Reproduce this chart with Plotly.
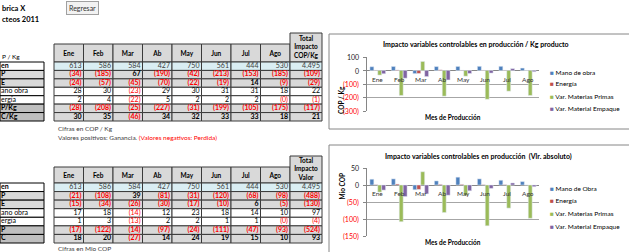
import plotly.graph_objects as go

W, H = 629, 252
FONT = "Lato"

months = ["Ene", "Feb", "Mar", "Ab", "May", "Jun", "Jul", "Ago"]
volumen = [613, 586, 584, 427, 750, 561, 444, 530]
volumen_total = 4495

# Table 1: COP / Kg
kg_mp = [-34, -185, 67, -190, -42, -213, -153, -185]
kg_me = [-24, -57, -45, -70, -22, -19, 14, -9]
kg_mo = [28, 30, -23, 29, 30, 31, 31, 18]
kg_en = [2, 4, -22, 5, 2, 2, 2, -0.3]
kg_p = [-28, -208, -25, -227, -31, -199, -105, -175]
kg_c = [30, 35, -46, 34, 32, 33, 33, 18]
kg_totals = [volumen_total, -109, -29, 22, -1, -117, 21]

# Table 2: Mio COP
mio_mp = [-21, -108, 39, -81, -31, -120, -68, -98]
mio_me = [-15, -34, -26, -30, -17, -10, 6, -5]
mio_mo = [17, 18, -14, 12, 23, 18, 14, 10]
mio_en = [1, 3, -13, 2, 2, 1, 1, -0.2]
mio_p = [-17, -122, -14, -97, -24, -111, -47, -93]
mio_c = [18, 20, -27, 14, 24, 19, 15, 10]
mio_totals = [volumen_total, -488, -130, 97, -4, -524, 93]

labels1 = ["en", "P", "E", "ano obra", "ergía", "P/Kg", "C/Kg"]
labels2 = ["en", "P", "E", "ano obra", "ergía", "P", "C"]

series_names1 = ["Mano de obra", "Energía", "Var. Materias Primas", "Var. Material Empaque"]
series_names2 = ["Mano de Obra", "Energía", "Var. Materias Primas", "Var. Material Empaque"]
colors = ["#4F81BD", "#C0504D", "#9BBB59", "#8064A2"]

ticks1 = [100, 0, -100, -200, -300]
ticks2 = [50, 0, -50, -100, -150]

BOLD_ROWS = {1, 2, 5, 6}
GREY = "#D9D9D9"
DGREY = "#BFBFBF"
BLUE = "#DAEEF3"
RED = "#FF0000"
LINE = "#3A3A3A"


def fmt(v):
    r = int(round(abs(v)))
    s = f"{r:,}".replace(",", ".")
    return f"({s})" if v < 0 else s


def xdom(l, r):
    return [max(0, l / W), min(1, r / W)]


def ydom(top, bottom):
    return [max(0, 1 - bottom / H), min(1, 1 - top / H)]


fig = go.Figure()
shapes = []

row_fill = [BLUE, GREY, GREY, "white", "white", GREY, GREY]
label_fill = ["white", GREY, GREY, "white", "white", DGREY, DGREY]


def rect(x0, x1, y0, y1, fill, color=LINE, width=1):
    shapes.append(dict(type="rect", xref="x3", yref="y3", x0=x0, x1=x1, y0=y0, y1=y1,
                       fillcolor=fill, line=dict(color=color, width=width), layer="below"))


def add_table(rows, totals, labels, total_hdr, top_hdr, top_rows, bottom_rows):
    col_w = (290 - 54) / len(months)
    edges = [54 + j * col_w for j in range(len(months) + 1)] + [322]
    row_h = (bottom_rows - top_rows) / len(rows)
    for j in range(len(months)):
        rect(edges[j], edges[j + 1], top_hdr, top_rows, GREY)
    rect(edges[-2], edges[-1], top_hdr - 11, top_rows, GREY)
    tx, ty, tt, tc = [], [], [], []
    hx, hy, ht = [], [], []
    for j, m in enumerate(months):
        hx.append((edges[j] + edges[j + 1]) / 2)
        hy.append((top_hdr + top_rows) / 2 + 1)
        ht.append(f"<b>{m}</b>")
    hx.append((edges[-2] + edges[-1]) / 2)
    hy.append((top_hdr - 11 + top_rows) / 2)
    ht.append(total_hdr)
    for i, r in enumerate(rows):
        y0 = top_rows + i * row_h
        allv = list(r) + [totals[i]]
        for j, v in enumerate(allv):
            rect(edges[j], edges[j + 1], y0, y0 + row_h, row_fill[i])
            t = fmt(v)
            if i in BOLD_ROWS:
                t = f"<b>{t}</b>"
            tx.append(edges[j + 1] - 2)
            ty.append(y0 + row_h / 2)
            tt.append(t)
            tc.append(RED if v < 0 else ("#404040" if i == 0 else "black"))
        rect(0, 44, y0, y0 + row_h, label_fill[i], color="black")
    fig.add_trace(go.Scatter(x=tx, y=ty, text=tt, mode="text", textposition="middle left",
                             textfont=dict(family=FONT, size=7, color=tc), xaxis="x3", yaxis="y3",
                             hoverinfo="skip", showlegend=False))
    fig.add_trace(go.Scatter(x=hx, y=hy, text=ht, mode="text", textposition="middle center",
                             textfont=dict(family=FONT, size=6.5, color="black"), xaxis="x3",
                             yaxis="y3", hoverinfo="skip", showlegend=False))
    lab = [f"<b>{l}</b>" if i in (0, 1, 2, 5, 6) else l for i, l in enumerate(labels)]
    fig.add_trace(go.Scatter(x=[1] * len(lab), y=[top_rows + (i + 0.5) * row_h for i in range(len(lab))],
                             text=lab, mode="text", textposition="middle right",
                             textfont=dict(family=FONT, size=7, color="black"), xaxis="x3",
                             yaxis="y3", hoverinfo="skip", showlegend=False))


add_table([volumen, kg_mp, kg_me, kg_mo, kg_en, kg_p, kg_c], kg_totals, labels1,
          "<b>Total<br>Impacto<br>COP/Kg</b>", 44, 62, 121)
add_table([volumen, mio_mp, mio_me, mio_mo, mio_en, mio_p, mio_c], mio_totals, labels2,
          "<b>Total<br>Impacto<br>Valor</b>", 167, 183, 243)

for k, s in enumerate([kg_mo, kg_en, kg_mp, kg_me]):
    fig.add_trace(go.Bar(x=months, y=s, name=series_names1[k], marker_color=colors[k],
                         xaxis="x", yaxis="y", showlegend=False))
for k, s in enumerate([mio_mo, mio_en, mio_mp, mio_me]):
    fig.add_trace(go.Bar(x=months, y=s, name=series_names2[k], marker_color=colors[k],
                         xaxis="x2", yaxis="y2", showlegend=False))

axis_common = dict(showgrid=True, gridcolor="#A6A6A6", gridwidth=1, zeroline=True,
                   zerolinecolor="#868686", zerolinewidth=1, showline=True, linecolor="#868686",
                   ticks="outside", ticklen=3, tickcolor="#868686", autorange=False,
                   showticklabels=False, fixedrange=True)
xcommon = dict(type="category", showticklabels=False, showgrid=False, zeroline=False,
               showline=False, fixedrange=True)

fig.update_layout(
    width=W, height=H, margin=dict(l=0, r=0, t=0, b=0, autoexpand=False),
    paper_bgcolor="white", plot_bgcolor="rgba(0,0,0,0)",
    barmode="group", bargap=0.27, bargroupgap=0,
    font=dict(family=FONT, size=7, color="black"),
    xaxis=dict(domain=xdom(367, 539), anchor="y", **xcommon),
    yaxis=dict(domain=ydom(57, 111), anchor="x", range=[-300, 100], tickvals=ticks1, **axis_common),
    xaxis2=dict(domain=xdom(367, 539), anchor="y2", **xcommon),
    yaxis2=dict(domain=ydom(168, 236), anchor="x2", range=[-150, 50], tickvals=ticks2, **axis_common),
    xaxis3=dict(domain=[0, 1], range=[0, W], visible=False, anchor="y3", fixedrange=True),
    yaxis3=dict(domain=[0, 1], range=[H, 0], visible=False, anchor="x3", fixedrange=True),
)

ann = []


def A(x, y, text, size=7, xanchor="left", yanchor="middle", **kw):
    ann.append(dict(x=x / W, y=1 - y / H, xref="paper", yref="paper", text=text,
                    showarrow=False, xanchor=xanchor, yanchor=yanchor,
                    font=dict(family=FONT, size=size, color=kw.pop("color", "black")), **kw))


A(0, 8, "<b>brica X</b>", size=7.5)
A(0, 20, "<b>cteos 2011</b>", size=7.5)
ann.append(dict(x=82 / W, y=1 - 7.5 / H, xref="paper", yref="paper", text="Regresar",
                showarrow=False, xanchor="center", yanchor="middle", bgcolor="#F2F2F2",
                bordercolor="#A0A0A0", borderwidth=1, borderpad=2,
                font=dict(family=FONT, size=7, color="#333333")))
A(0, 57, "P / Kg", size=6.5)
A(56, 128, "Cifras en COP / Kg", size=6.5, color="#404040")
A(56, 137, 'Valores positivos: Ganancia. <span style="color:#FF0000">(Valores negativos: Perdida)</span>',
  size=6.5, color="#404040")
A(56, 248, "Cifras en Mio COP", size=6.5, color="#404040")

A(476, 44, "<b>Impacto variables controlables en producción / Kg producto</b>", size=7, xanchor="center")
A(478, 156, "<b>Impacto variables controlables en producción  (Vlr. absoluto)</b>", size=7, xanchor="center")
A(453, 117, "<b>Mes de Producción</b>", size=6.5, xanchor="center")
A(453, 242, "<b>Mes de Producción</b>", size=6.5, xanchor="center")
ann.append(dict(x=342 / W, y=1 - 84 / H, xref="paper", yref="paper", text="<b>COP / Kg</b>",
                textangle=-90, showarrow=False, font=dict(family=FONT, size=6.5)))
ann.append(dict(x=342 / W, y=1 - 202 / H, xref="paper", yref="paper", text="<b>Mio COP</b>",
                textangle=-90, showarrow=False, font=dict(family=FONT, size=6.5)))

# y tick labels through the axes' own scales
for ticks, yr in ((ticks1, "y"), (ticks2, "y2")):
    for v in ticks:
        ann.append(dict(x=361 / W, y=v, xref="paper", yref=yr, text=fmt(v), showarrow=False,
                        xanchor="right", yanchor="middle",
                        font=dict(family=FONT, size=7, color=RED if v < 0 else "#222222")))

for m in months:
    for xr, yr in (("x", "y"), ("x2", "y2")):
        ann.append(dict(x=m, y=0, xref=xr, yref=yr, text=m, showarrow=False, yanchor="top",
                        yshift=-3, font=dict(family=FONT, size=6.5, color="#333333")))

for k in range(4):
    A(548, 72 + k * 12, f'<span style="color:{colors[k]}">■</span> {series_names1[k]}', size=6.5)
    A(548, 188 + k * 12.7, f'<span style="color:{colors[k]}">■</span> {series_names2[k]}', size=6.5)

fig.update_layout(annotations=ann)

shapes += [
    dict(type="rect", xref="paper", yref="paper", x0=329 / W, x1=640 / W, y0=1 - 129 / H,
         y1=1 - 34 / H, line=dict(color="#868686", width=1)),
    dict(type="rect", xref="paper", yref="paper", x0=329 / W, x1=640 / W, y0=1 - 262 / H,
         y1=1 - 145 / H, line=dict(color="#868686", width=1)),
]
fig.update_layout(shapes=shapes)

fig.write_html("out.html")
